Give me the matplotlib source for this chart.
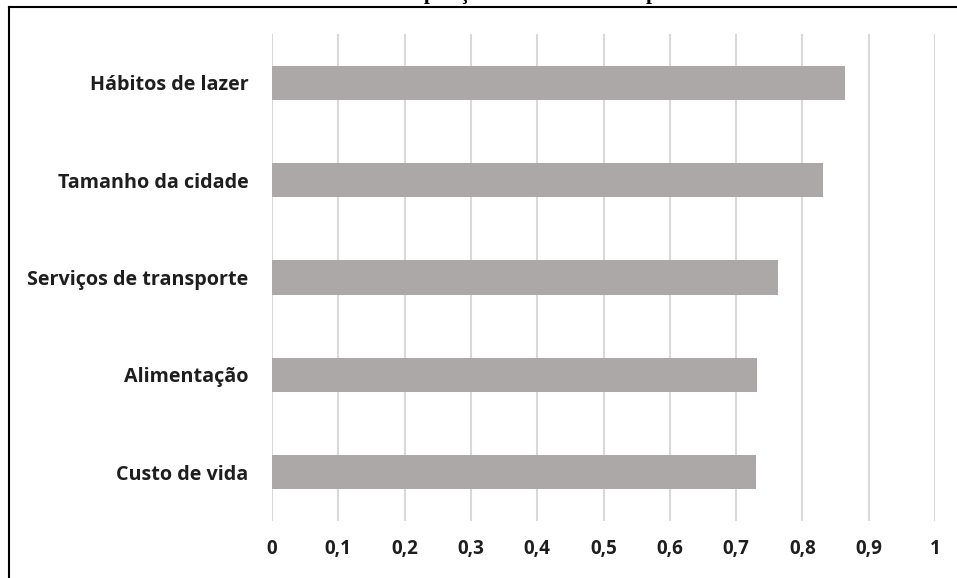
import matplotlib.pyplot as plt
from matplotlib.lines import Line2D

# Fatores avaliados e índice obtido por cada um
fatores = ["Custo de vida", "Alimentação", "Serviços de transporte",
           "Tamanho da cidade", "Hábitos de lazer"]
indices = [0.730, 0.731, 0.763, 0.831, 0.865]
ticks_x = [0, 0.1, 0.2, 0.3, 0.4, 0.5, 0.6, 0.7, 0.8, 0.9, 1]
ticks_rotulos = ["0", "0,1", "0,2", "0,3", "0,4", "0,5", "0,6", "0,7", "0,8", "0,9", "1"]

W, H = 957, 578
fig = plt.figure(figsize=(W / 100, H / 100), dpi=100)
fig.patch.set_facecolor("white")

# área do gráfico em pixels: esquerda 272, direita 935, topo 34, base 521
ax = fig.add_axes([272 / W, 1 - 521 / H, (935 - 272) / W, (521 - 34) / H])

ax.barh(range(len(fatores)), indices, height=0.35, color="#aca8a7", zorder=2)

ax.set_xlim(0, 1)
ax.set_ylim(-0.5, len(fatores) - 0.5)
ax.set_xticks(ticks_x)
ax.set_xticklabels(ticks_rotulos)
ax.set_yticks(range(len(fatores)))
ax.set_yticklabels(fatores)

for lb in ax.get_yticklabels():
    lb.set_fontsize(14.2)
for lb in ax.get_xticklabels():
    lb.set_fontsize(13.5)
for lb in ax.get_xticklabels() + ax.get_yticklabels():
    lb.set_fontfamily("Open Sans")
    lb.set_fontweight("bold")
    lb.set_color("#1e1e1e")

ax.tick_params(axis="both", length=0)
ax.tick_params(axis="x", pad=13)
ax.tick_params(axis="y", pad=17)
ax.grid(axis="x", color="#d9d9d9", linewidth=1.5, zorder=1)
for s in ax.spines.values():
    s.set_visible(False)

# moldura (apenas topo e lado esquerdo aparecem)
fig.add_artist(Line2D([9 / W, 9 / W], [0, 1 - 7 / H], color="black", lw=1.5,
                      transform=fig.transFigure))
fig.add_artist(Line2D([9 / W, 1], [1 - 7 / H, 1 - 7 / H], color="black", lw=1.5,
                      transform=fig.transFigure))

# título acima da moldura, quase todo fora da imagem
fig.text(395 / W, 1 + 1 / H, "Disposição dos fatores de impacto",
         family="Liberation Serif", weight="bold", fontsize=15,
         ha="left", va="baseline")

fig.savefig("out.png", dpi=100)
